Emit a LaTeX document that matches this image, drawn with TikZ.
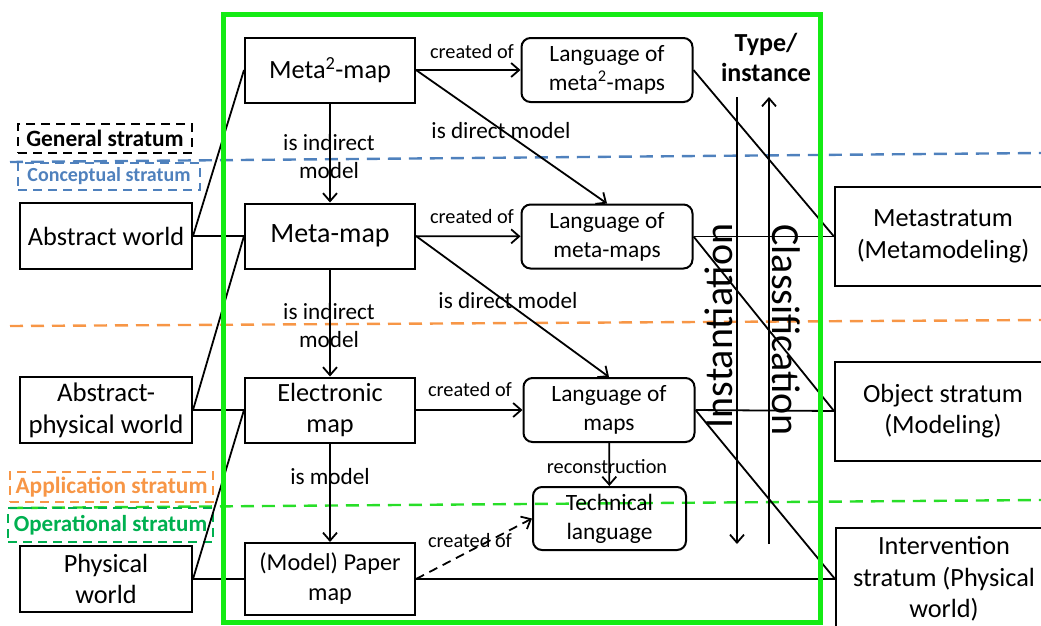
\documentclass[tikz,border=0pt]{standalone}
\usepackage{fontspec}
\setmainfont{Carlito}
\usetikzlibrary{arrows.meta}

\begin{document}
\begin{tikzpicture}[x=1pt, y=-1pt, >={Straight Barb[length=8pt,width=14pt]},
  box/.style={draw, line width=2pt, align=center, inner sep=0pt, font=\fontsize{26.3}{31.5}\selectfont},
  worldbox/.style={box, minimum width=172pt, minimum height=66pt},
  mapbox/.style={box, minimum width=170pt, minimum height=65pt},
  langbox/.style={box, rounded corners=9pt, minimum width=171pt, minimum height=64pt, font=\fontsize{23.4}{29}\selectfont},
  stratbox/.style={box, minimum width=216pt, minimum height=99pt},
  lbl/.style={align=center, font=\fontsize{20.3}{27}\selectfont},
  islbl/.style={align=center, font=\fontsize{23.2}{28}\selectfont},
  tag/.style={draw, line width=2pt, dash pattern=on 9pt off 6pt, inner sep=0pt, font=\fontsize{23.4}{26}\selectfont\bfseries},
  link/.style={line width=1.8pt},
  level/.style={line width=2.4pt, dash pattern=on 13pt off 8pt}]

\definecolor{concblue}{RGB}{79, 129, 189}
\definecolor{applorange}{RGB}{247, 150, 70}
\definecolor{opgreen}{RGB}{0, 176, 80}
\definecolor{linegreen}{RGB}{40, 222, 40}
\definecolor{framegreen}{RGB}{20, 235, 20}

\useasboundingbox (0,0) rectangle (1041,625);

% stratum borders
\draw[level, concblue] (10,162) -- (1041,153);
\draw[level, applorange] (10,326) -- (1041,320);
\draw[level, linegreen] (10,508) -- (1041,500);

\node[tag, minimum width=174pt, minimum height=29pt] (genlbl) at (105,138.5) {General stratum};
\node[tag, concblue, minimum width=182pt, minimum height=27pt, font=\fontsize{20}{24}\selectfont\bfseries] (conclbl) at (109,176.5) {Conceptual stratum};
\node[tag, applorange, minimum width=203pt, minimum height=30pt] (applbl) at (111.5,487) {Application stratum};
\node[tag, opgreen, minimum width=205pt, minimum height=34pt, font=\fontsize{23}{26}\selectfont\bfseries] (oplbl) at (110.5,525) {Operational stratum};

% worlds
\node[worldbox] (abstract) at (106,236) {Abstract world};
\node[worldbox, font=\fontsize{26.8}{32}\selectfont] (absphys) at (106,410) {Abstract-\\physical world};
\node[worldbox] (physical) at (106,579) {Physical\\world};

% maps
\node[mapbox] (m2map) at (330,70) {Meta\textsuperscript{2}-map};
\node[mapbox, font=\fontsize{28}{32}\selectfont] (mmap) at (330,236) {Meta-map};
\node[mapbox] (emap) at (330,410) {Electronic\\map};
\node[mapbox, minimum height=72pt, font=\fontsize{24.3}{30}\selectfont] (pmap) at (330,579) {(Model) Paper\\map};

% languages
\node[langbox] (lang2) at (607,70) {Language of\\meta\textsuperscript{2}-maps};
\node[langbox] (lang1) at (607,236.5) {Language of\\meta-maps};
\node[langbox] (lang0) at (609,410) {Language of\\maps};
\node[langbox, minimum width=153pt, minimum height=63pt] (techlang) at (609.5,518.5) {Technical\\language};

% strata
\node[stratbox] (metastrat) at (943,236.5) {Metastratum\\(Metamodeling)};
\node[stratbox] (objstrat) at (943,411) {Object stratum\\(Modeling)};
\node[stratbox, minimum height=102pt] (intstrat) at (944,579) {Intervention\\stratum (Physical\\world)};

\draw[link] (abstract.east) -- (mmap.west);
\draw[link] (abstract.east) -- (m2map.west);
\draw[link] (absphys.east) -- (emap.west);
\draw[link] (absphys.east) -- (mmap.west);
\draw[link] (physical.east) -- (pmap.west);
\draw[link] (physical.east) -- (emap.west);

\draw[link, ->] (m2map) -- (lang2);
\draw[link, ->] (mmap) -- (lang1);
\draw[link, ->] (emap) -- (lang0);
\node[lbl] (c2) at (472,52) {created of};
\node[lbl] (c1) at (472,217) {created of};
\node[lbl] (c0) at (470,390) {created of};

\draw[link, ->] (m2map) -- (mmap);
\draw[link, ->] (mmap) -- (emap);
\draw[link, ->] (emap) -- (pmap);
\node[islbl] (ind2) at (329,157) {is indirect\\model};
\node[islbl] (ind1) at (329,326) {is indirect\\model};
\node[islbl] (ismod) at (330,477) {is model};

\draw[link, ->] (m2map.east) -- (lang1.north);
\draw[link, ->] (mmap.east) -- (lang0.north);
\node[islbl] (dir2) at (501,131) {is direct model};
\node[islbl] (dir1) at (508,301) {is direct model};

\draw[link, ->] (lang0) -- (techlang);
\node[lbl] (recon) at (607,467) {reconstruction};

\draw[link, ->, dash pattern=on 9pt off 6pt] (pmap.east) -- (techlang.west);
\node[lbl] (cp) at (470,541) {created of};
\draw[link] (pmap.east) -- (intstrat.west);

\draw[link] (lang2.east) -- (metastrat.west);
\draw[link] (lang1.east) -- (metastrat.west);
\draw[link] (lang1.east) -- (objstrat.west);
\draw[link] (lang0.east) -- (objstrat.west);
\draw[link] (lang0.east) -- (intstrat.west);

% type / instance
\node[align=center, font=\fontsize{26}{30}\selectfont\bfseries] (typeinst) at (766,57) {Type/\\instance};
\coordinate (insttop) at (737,97);
\coordinate (instbot) at (737,544);
\coordinate (classtop) at (769,97);
\coordinate (classbot) at (769,544);
\draw[link, ->] (insttop) -- (instbot);
\draw[link, ->] (classbot) -- (classtop);
\node[rotate=90, font=\fontsize{40}{48}\selectfont] (inst) at (719,326) {Instantiation};
\node[rotate=-90, font=\fontsize{40}{48}\selectfont] (classif) at (786,330) {Classification};

\draw[framegreen, line width=5pt] (223,14) rectangle (820,622);

\end{tikzpicture}
\end{document}
